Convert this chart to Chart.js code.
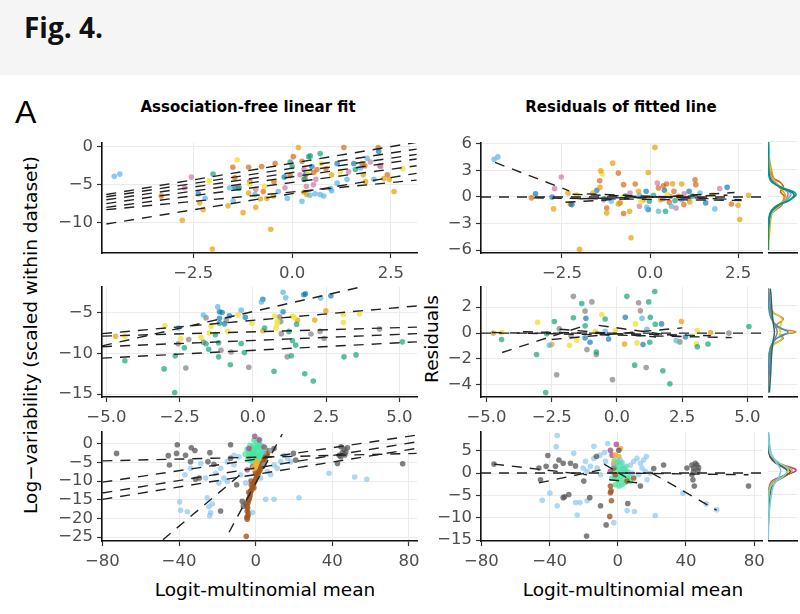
<!DOCTYPE html>
<html>
<head>
<meta charset="utf-8">
<script src="https://cdn.jsdelivr.net/npm/chart.js@4.4.1/dist/chart.umd.min.js"></script>
<style>
  body { margin: 0; width: 800px; height: 614px; position: relative; background: #fff; overflow: hidden; }
  .band { position: absolute; left: 0; top: 0; width: 800px; height: 75px; background: #f5f5f5; }
  .fig { position: absolute; left: 24px; top: 13px; font: 700 28px/28px "Open Sans", sans-serif; color: #111; }
  .lab { position: absolute; left: 15px; top: 96px; font: 32px/32px "Liberation Sans", sans-serif; color: #000; }
  .ttl { position: absolute; top: 100px; font: 700 15px/15px "DejaVu Sans", sans-serif; color: #000; transform: translateX(-50%); white-space: nowrap; }
  .axt { position: absolute; font: 18.5px/18.5px "DejaVu Sans", sans-serif; color: #000; white-space: nowrap; }
  .xt { top: 581px; transform: translateX(-50%); }
  .rot { transform: translate(-50%, -50%) rotate(-90deg); }
  .box { position: absolute; }
</style>
</head>
<body>
<div class="band"></div>
<div class="fig">Fig. 4.</div>
<div class="lab">A</div>
<div class="ttl" style="left:248px">Association-free linear fit</div>
<div class="ttl" style="left:621px">Residuals of fitted line</div>
<div class="axt rot" style="left:31px;top:335px">Log−variability (scaled within dataset)</div>
<div class="axt rot" style="left:432px;top:339px">Residuals</div>
<div class="axt xt" style="left:265px">Logit-multinomial mean</div>
<div class="axt xt" style="left:633px">Logit-multinomial mean</div>

<script>
// colours
const cOrange = 'rgba(230,159,0,0.7)';
const cSky = 'rgba(86,180,233,0.7)';
const cGreen = 'rgba(0,158,115,0.65)';
const cYellow = 'rgba(240,228,66,0.85)';
const cBlue = 'rgba(0,114,178,0.65)';
const cVerm = 'rgba(213,94,0,0.65)';
const cPink = 'rgba(204,121,167,0.7)';
const cGray = 'rgba(150,150,150,0.85)';
const cDark = 'rgba(85,85,85,0.75)';
const cLight = 'rgba(120,190,235,0.6)';
const cAqua = 'rgba(70,230,160,0.75)';
const cBrown = 'rgba(160,86,30,0.8)';
const cGold = 'rgba(240,176,48,0.85)';
const cMag = 'rgba(168,69,143,0.75)';

// ---- top row: association-free fit ----
const tlSky = [[-4.5,-3.9],[-4.36,-3.6],[-2.2,-6.8],[-1.58,-5.4],[-1.49,-7.2],[-0.94,-6.3],[-0.35,-5.9],[-0.12,-6.8],[0.25,-7.2],[0.71,-6.3],[0.58,-6.2],[0.97,-5.5],[1.14,-4.8],[1.39,-4.3],[1.73,-2.8],[1.9,-1.5],[2.07,-4.3],[0.45,-6.4],[0.8,-6.5],[1.0,-5.8]];
const tlOrange = [[-2.78,-9.7],[-2.34,-7.4],[-2.25,-8.3],[-2.02,-13.5],[-1.62,-7.8],[-1.24,-8.7],[-0.92,-8.0],[-0.64,-6.8],[-0.54,-10.9],[-0.47,-6.5],[0.37,-6.3],[1.0,-3.7],[1.86,-4.6],[2.32,-4.2],[2.46,-4.3],[2.58,-5.9],[1.8,-3.7],[0.16,-0.1],[-0.8,-6.9],[0.3,-6.0],[-1.1,-6.1]];
const tlYellow = [[-2.1,-4.5],[-1.39,-1.7],[-1.07,-4.9],[0.74,-2.2],[1.22,-3.3],[2.8,-2.9],[-0.7,-5.2],[0.4,-3.3]];
const tlGreen = [[-2.0,-3.6],[-0.05,-2.0],[0,-2.6],[0.42,-1.3],[0.46,-1.2],[0.71,-0.9],[-1.35,-5.5],[0.3,-4.3],[1.6,-3.0]];
const tlBlue = [[-2.37,-6.2],[0.5,-2.6],[1.14,-2.2],[1.56,-2.2],[2.19,-0.6],[-1.45,-5.4],[0.35,-3.6],[-0.2,-4.0]];
const tlVerm = [[-3.31,-6.5],[-1.5,-2.7],[-1.45,-4.1],[-1.1,-2.7],[-1.07,-4.6],[-0.77,-2.6],[-0.73,-5.9],[-0.43,-2.2],[-0.46,-4.6],[-0.05,-3.8],[0.03,-1.3],[0.33,-4.2],[0.63,-3.0],[0.86,-2.9],[1.31,-0.1],[1.77,-2.2],[2.41,-3.7],[2.18,-0.1],[1.84,-2.5],[0.25,-1.9],[0.55,-3.4]];
const tlPink = [[-2.55,-4.0],[-2.72,-5.4],[-1.34,-5.3],[-0.92,-5.6],[-0.18,-5.4],[0.2,-3.7],[0.36,-5.2],[0.54,-5.0],[1.43,-3.3],[1.98,-2.0],[2.24,-2.6],[2.22,-2.5],[0.3,-3.0],[0.6,-4.3]];
const tlFits = [[-4.7,-6.3,3.15,0.6],[-4.7,-6.6,3.15,-0.3],[-4.7,-7.0,3.15,-1.0],[-4.7,-7.5,3.15,-1.6],[-4.7,-8.0,3.15,-2.5],[-4.7,-8.3,3.15,-4.4],[-4.7,-10.2,3.15,-3.5]];

const trSky = [[-4.43,4.27],[-4.32,4.53],[-1.1,-0.49],[-0.09,-1.16],[0.24,-1.61],[0.61,-1.05],[1.42,0.45],[1.84,-1.35],[0.9,-0.3],[-0.3,0.2]];
const trOrange = [[-2.74,-1.35],[-2.33,0.45],[-2.0,-5.9],[-1.62,0.45],[-1.4,2.96],[-1.42,1.1],[-1.23,-1.8],[-1.06,3.82],[-0.58,-1.61],[-0.54,-4.6],[-0.33,0.64],[-0.05,2.77],[0.14,5.6],[0.64,1.5],[0.9,1.46],[1.13,-0.56],[2.5,-0.94],[2.55,-2.55],[2.8,0.19],[-0.9,-0.8],[0.3,-0.3]];
const trYellow = [[-2.08,0.26],[-1.36,2.6],[1.79,0.26],[-0.8,-0.1],[0.5,0.3],[-0.25,-0.5]];
const trGreen = [[-0.02,-0.49],[0.44,-1.61],[0.71,-0.41],[-1.3,-0.2],[0.1,0.2],[1.2,0.1]];
const trBlue = [[-3.25,0.37],[-2.78,0],[-2.22,-0.86],[-1.51,0.75],[-0.05,-1.42],[-0.11,0.64],[0.41,0.75],[1.11,0.64],[1.58,-0.67],[2.19,1.09],[-0.7,0.1]];
const trVerm = [[-3.37,-0.1],[-2.26,-0.8],[-1.43,1.84],[-1.23,-1.24],[-0.9,2.7],[-0.75,1.39],[-0.75,-1.87],[-0.85,-0.67],[-0.42,1.46],[0.24,1.01],[0.38,1.27],[0.47,1.46],[0.68,0.64],[0.81,0.07],[0.96,-0.86],[1.28,1.95],[1.3,1.39],[2.31,-0.79],[0.55,-0.6],[-0.2,-0.3]];
const trPink = [[-2.52,2.25],[-2.71,0.94],[-1.32,-0.3],[-0.57,0.45],[-0.3,-1.05],[0.21,1.57],[0.38,-0.19],[0.57,0.07],[0.74,-1.24],[0.97,0.37],[1.98,0.94],[1.1,-0.2]];
const trFits = [[-4.4,3.9,-2.3,0.7],[-3.3,-0.1,2.6,-0.4],[-2.4,-0.6,2.4,0.5],[-2.2,0.3,2.6,-0.3],[-2.0,-0.2,2.2,0.2],[-1.8,0.35,1.9,-0.2]];

// ---- middle row ----
const mlBlue = [[-1.14,-4.92],[-1.05,-5.0],[-1.14,-5.72],[-0.97,-6.4],[-0.8,-5.4],[-0.26,-5.6],[0.34,-3.4],[1.03,-4.92],[1.74,-2.84],[1.79,-2.72],[2.66,-2.96]];
const mlSky = [[-2.55,-6.92],[-1.69,-5.32],[-1.2,-4.32],[-0.4,-4.72],[0.29,-3.72],[1.03,-2.52],[1.12,-3.2],[2.31,-3.24]];
const mlGreen = [[-4.37,-10.92],[-3.03,-11.92],[-2.65,-10.32],[-2.67,-14.8],[-2.34,-9.32],[-1.6,-8.84],[-1.51,-9.52],[-1.14,-6.32],[-1.17,-8.72],[-1.17,-10.44],[-1.28,-7.72],[-0.77,-11.4],[-0.4,-8.8],[-0.29,-9.92],[0.4,-6.92],[0.72,-12.2],[1.49,-6.44],[1.23,-7.32],[1.35,-8.44],[1.46,-9.0],[1.31,-10.32],[1.77,-12.52],[2.06,-13.4],[3.11,-10.44],[3.52,-10.2],[5.1,-8.6]];
const mlYellow = [[-4.37,-7.92],[-3.0,-6.64],[-2.46,-8.24],[-1.77,-8.04],[-1.49,-7.52],[-1.43,-6.72],[-0.86,-7.32],[-0.51,-5.32],[-0.03,-6.32],[0.74,-5.44],[0.83,-6.12],[0.83,-6.44],[0.78,-6.92],[1.35,-5.44],[1.41,-5.6],[3.09,-5.24],[3.09,-6.24],[3.63,-5.2]];
const mlGray = [[-2.55,-8.84],[-2.19,-8.32],[-2.29,-11.8],[-1.69,-8.64],[-1.6,-5.64],[-1.09,-9.64],[-0.91,-5.92],[-0.74,-9.84],[-0.14,-11.72],[0.91,-5.52],[0.95,-6.12],[0.97,-7.6],[1.17,-10.44],[1.98,-7.64],[2.29,-7.32],[2.43,-8.2],[4.32,-7.04]];
const mlOrange = [[-4.69,-7.92],[0.34,-7.24],[1.52,-5.92],[2.49,-4.8],[2.11,-5.92]];
const mlFits = [[-5.15,-9.1,3.6,-1.95],[-5.15,-7.6,5.6,-4.2],[-5.15,-7.9,5.6,-6.8],[-5.15,-9.2,5.6,-7.6],[-5.15,-10.6,5.6,-8.6]];

const mrOrange = [[-4.74,0],[-2.5,-0.89],[0.29,-0.84],[2.47,0.89],[3.59,0.05]];
const mrYellow = [[-4.42,0.05],[-3.04,0.84],[-1.82,-0.94],[-1.54,-0.56],[-0.83,0.13],[-0.58,1.44],[-0.06,0.2],[0.71,0.71],[0.77,-0.76],[3.08,0.2],[3.05,-0.84]];
const mrGreen = [[-4.42,-0.5],[-3.08,-1.65],[-2.4,0.89],[-2.69,-0.05],[-2.73,-4.6],[-1.67,1.19],[-1.35,2.28],[-1.22,0.56],[-0.79,-1.47],[-0.45,1.09],[0.38,2.84],[0.68,-2.48],[1.22,2.41],[1.28,1.22],[1.26,-0.71],[1.45,3.22],[1.47,0.68],[1.76,-2.91],[2.03,-3.92],[3.08,-1.06],[3.49,-0.84],[5.06,0.51]];
const mrSky = [[-2.59,-0.94],[-0.45,0.13],[0.96,1.14],[1.15,0.3],[2.27,-0.58]];
const mrBlue = [[-1.19,1.14],[-1.22,-0.38],[-1.03,-0.71],[-0.32,-0.46],[0.32,1.22],[1.0,-0.89],[1.71,0.71],[2.63,-0.3]];
const mrGray = [[-2.31,-3.22],[-2.21,0.33],[-1.67,2.84],[-1.76,-0.2],[-0.96,2.41],[-1.22,1.7],[-1.15,-1.27],[-0.79,-1.65],[-0.17,-3.6],[0.83,2.35],[0.9,1.72],[1.12,-2.66],[2.41,-0.68],[4.29,0]];
const mrFits = [[-4.4,-1.5,-1.2,0.6],[-4.8,0.05,4.4,-0.35],[-2.5,-0.5,2.5,0.4],[-2.2,0.3,1.5,-0.3],[-0.7,0.6,2.5,-0.3],[-3.6,0.1,3.6,-0.2]];

// ---- bottom row ----
const blGray = [[-72.6,-2.6],[-45.6,-3.2],[-45,-5.7],[-41.3,-2.6],[-40.9,-0.3],[-36.6,-3.1],[-33.6,-1.1],[-34,-4.8],[-31.7,-1.8],[-31.4,-9.5],[-29.4,-9.2],[-24.9,-4.8],[-23.9,-2.4],[-21.8,-5.5],[-18.3,-18],[-13.1,-0.3],[-13.1,-3.9],[-9.9,-11],[-7,-15.4],[-6.4,-16.7],[9.6,-1.3],[19.7,-2.6],[20.9,-4.4],[42.7,-5.3],[44.4,-3.5],[46.2,-1.5],[47,-2.2],[45.3,-2.4],[47.9,-1.1],[43.6,-3.1],[76.7,-5.4],[44.5,-0.8],[46.5,-3.0]];
const blSky = [[-39.2,-17.8],[-39.7,-15.6],[-35.7,-18.2],[-36.9,-8.3],[-34,-6.6],[-28.7,-5.3],[-26.1,-9.2],[-25.3,-14.5],[-24.4,-16.9],[-24,-19.3],[-23.5,-18.4],[-22.6,-16.1],[-20.9,-7.9],[-19.2,-10.5],[-18.3,-6.6],[-16.6,-9.2],[-14.8,-10.1],[-14.8,-4.8],[-11.3,-5.7],[-7.8,-8.3],[-5.2,-10.5],[-1.7,-18.4],[-11.3,-3.1],[-8.7,-3.5],[4.4,-5.7],[6.1,-7.5],[5.2,-14.9],[9.6,-14.9],[9.6,-5.7],[11.3,-6.6],[13.1,-4.8],[14.8,-3.1],[16.6,-3.9],[18.3,-4.8],[22.6,-14.5],[38.3,-7.9],[51.7,-8.9],[58,-9.5],[7.8,-8.3],[2.6,-9.2],[4.4,-2.2],[7.8,-1.8]];
const blGreen = [[-2.6,-3.1],[-0.9,-1.8],[0.9,-0.9],[1.7,-2.2],[2.6,-3.1],[0,-3.9],[-1.7,-4.8],[0.9,-3.5],[3.5,-1.3],[-3.5,-2.2],[-0.9,-0.4],[1.7,0],[2.6,-1.5],[-2.0,-1.0],[0.2,-2.6],[4.2,-2.5],[-1.2,-3.0],[3.0,-0.5],
  [-4.5,-1.5],[-3.8,-3.5],[-3,-0.5],[-2.2,-2.6],[-1.5,-1.5],[-0.5,-2.8],[0.5,-1.2],[1.2,-3.2],[2.0,-0.3],[3.2,-2.8],[4.8,-1.0],[5.5,-2.0],[-4.0,-4.2],[-2.8,-4.5],[-0.3,-4.6],[1.0,-4.4],[2.2,-4.0],[3.8,-3.6],[-5.5,-2.8],[0.3,0.5],[-1.0,1.0],[1.5,1.2]];
const blMag = [[-0.5,2.0],[-1.7,-6.1],[-4.4,-7.0],[4.4,-0.9],[-3.5,-1.3],[2.0,1.0]];
const blGold = [[0,-5.7],[0.9,-6.6],[-0.9,-6.4],[1.7,-5.3],[0.5,-4.8],[-0.4,-7.3],[1.3,-7.6]];
const blBrown = [[6.1,-2.6],[5.2,-3.5],[4.4,-4.4],[3.5,-5.3],[2.6,-6.6],[1.7,-7.5],[0.9,-8.8],[0,-9.6],[-0.9,-10.5],[-1.7,-11.8],[-2.6,-12.7],[-3.0,-14],[-3.5,-14.9],[-4.0,-15.8],[-4.4,-16.7],[-4.4,-18],[-4.0,-19.3],[-4.4,-20.2],[-4.9,-24.8],[-0.9,-11.8],[-2.3,-11],[0,-7.9],[7,-1.8],
  [5.8,-3.0],[4.8,-3.9],[4.0,-5.0],[3.0,-6.0],[2.2,-7.1],[1.3,-8.2],[0.4,-9.1],[-0.4,-10.0],[-1.3,-11.2],[-2.0,-12.3],[-2.9,-13.4],[-3.3,-14.5],[-3.8,-15.3],[-4.2,-17.2],[-3.8,-18.6],[-4.6,-19.7],[-3.6,-13.0],[-2.4,-10.0],[-5.0,-16.0]];
const blFits = [[-13.9,-23.7,13.9,2.6],[-48.4,-25.7,-5,-7.0],[-80,-4.6,84,-2.6],[-80,-10.3,84,2.3],[-80,-13.2,84,0.5],[-80,-14.9,84,-1.25]];

const brGray = [[-72.6,2.0],[-46.2,1.1],[-45.3,-1.5],[-42,1.5],[-41,3.9],[-36.5,1.5],[-34.5,2.9],[-32,2.2],[-31.2,-5.3],[-32,-5.5],[-28.7,-4.8],[-27.7,2.2],[-24.8,1.6],[-19.9,-1.8],[-18.3,-14.1],[-16.4,-5.5],[-12.5,3.7],[-10.1,-7.3],[-6.8,-11.6],[0.6,5.1],[5.9,-6.8],[13.3,-2.9],[21.1,1.0],[26.9,1.8],[40.6,1.1],[43.5,1.8],[44.5,1.1],[46.4,1.8],[47.4,1.2],[44.5,0.4],[43.5,-0.4],[45.5,2.2],[47,0.5],[44.1,-1.5],[44.9,-2.9],[76.7,-2.9]];
const brSky = [[-44.3,-6.1],[-39.8,-4.5],[-36.1,5.9],[-35.5,-7.3],[-35.5,8.4],[-25.8,4.4],[-24.8,-6.6],[-23.8,-9.4],[-22.2,-6.6],[-20.3,1.1],[-18.9,2.6],[-18,0.4],[-16,1.5],[-14,6.0],[-14,3.3],[-18,-6.2],[-12.1,1.1],[-10.5,4.0],[-10.1,-0.4],[-7.8,4.6],[-7.2,2.6],[-5.9,6.6],[-2.3,-11.1],[5.5,-8.4],[9.8,-8.6],[9.4,2.6],[11.3,3.3],[13.3,2.2],[15.2,2.9],[16.8,3.7],[14.2,1.1],[16.2,0.4],[12.3,-0.4],[17.2,-1.5],[19.1,0],[22,-9.5],[38.2,-4.5],[51.9,-6.9],[58.1,-8.2],[-2.3,1.8],[1.6,2.9],[3.5,1.1],[7.4,1.8],[8.4,0]];
const brGreen = [[-2.3,1.1],[-0.4,2.2],[1.6,1.8],[3.5,-0.4],[5.5,-1.1],[0.6,-1.8],[-1.4,-2.6],[2.5,-2.6],[4.5,0.4],[7.4,-1.8],[-0.4,0.4],[1.6,-0.7],[2.8,1.0],[-1.8,-0.9],
  [-3.5,-1.2],[-2.8,0.2],[-1.0,1.4],[0.2,2.6],[1.0,0.8],[2.0,0.0],[3.0,-1.4],[4.2,-2.2],[5.0,1.5],[6.0,0.3],[-0.5,-1.0],[0.8,-2.9],[2.5,2.3],[-2.0,2.8],[3.8,0.9],[6.8,-0.8]];
const brMag = [[-0.8,6.4],[-4.3,5.1],[-3.3,4.0],[-4.3,0.4]];
const brGold = [[-1.4,4.0],[0.6,3.7],[-2.3,2.2],[1.6,5.5]];
const brBrown = [[-4.3,-2.9],[-3.9,-4.0],[-4.3,-4.4],[-3.7,-6.2],[-4.7,-9.7],[-2.3,1.1],[-1.4,-0.4],[5.5,-1.8],[9.4,-1.1]];
const brFits = [[-72.6,2.0,-18,-0.4],[-46.2,-2.2,-10.1,0.7],[20,0,58,-8.3],[0,0,76.7,-0.4],[-5,-1.5,12,-2.2],[-8,2,5,-1]];

// ---- residual densities (strip on the right) ----
const topLevels = [-6,-5,-4,-3,-2,-1.5,-1,-0.5,0,0.25,0.5,1,1.5,2,3,4,5,6];
const topDens = [
  ['#009E73', [0,0,0.01,0.02,0.06,0.15,0.35,0.75,0.98,1.0,0.9,0.45,0.15,0.05,0.02,0.01,0,0]],
  ['#0072B2', [0,0,0.01,0.03,0.08,0.18,0.4,0.75,0.93,0.92,0.8,0.42,0.18,0.07,0.02,0.01,0.01,0]],
  ['#56B4E9', [0,0,0.01,0.03,0.1,0.2,0.38,0.65,0.8,0.82,0.75,0.45,0.2,0.08,0.03,0.03,0.05,0.02]],
  ['#CC79A7', [0,0,0.01,0.03,0.1,0.22,0.42,0.62,0.7,0.72,0.68,0.45,0.25,0.12,0.05,0.02,0,0]],
  ['#F0E442', [0,0,0.02,0.04,0.12,0.25,0.45,0.65,0.74,0.74,0.7,0.5,0.28,0.12,0.06,0.02,0,0]],
  ['#E69F00', [0.02,0.03,0.06,0.08,0.14,0.25,0.4,0.55,0.62,0.6,0.55,0.4,0.3,0.2,0.12,0.06,0.04,0.02]],
  ['#D55E00', [0,0,0.01,0.02,0.1,0.3,0.5,0.55,0.58,0.5,0.45,0.55,0.45,0.2,0.06,0.02,0,0]]
];
const midLevels = [-4.6,-4,-3,-2,-1.5,-1,-0.5,-0.25,0,0.25,0.5,1,1.5,2,3,3.3];
const midDens = [
  ['#1F6F6A', [0.05,0.07,0.1,0.12,0.14,0.16,0.2,0.22,0.23,0.22,0.2,0.17,0.15,0.13,0.1,0.08]],
  ['#808080', [0,0.02,0.05,0.08,0.1,0.15,0.25,0.3,0.33,0.3,0.25,0.15,0.1,0.08,0.04,0.02]],
  ['#3A8FD8', [0,0,0.01,0.03,0.06,0.12,0.3,0.55,0.72,0.5,0.3,0.12,0.05,0.02,0,0]],
  ['#E0C830', [0,0,0,0.03,0.08,0.2,0.5,0.4,0.45,0.4,0.45,0.5,0.2,0.05,0,0]],
  ['#C8901A', [0,0,0,0.02,0.05,0.15,0.55,0.45,1.0,0.45,0.3,0.55,0.15,0.03,0,0]]
];
const botLevels = [-15,-12,-10,-8,-6,-4,-3,-2,-1,0,0.5,1,2,3,4,6,8,8.6];
const botDens = [
  ['#7EC4EE', [0.01,0.02,0.04,0.06,0.1,0.15,0.2,0.3,0.4,0.45,0.45,0.42,0.3,0.2,0.12,0.06,0.04,0.03]],
  ['#66E8B0', [0,0,0,0.01,0.02,0.06,0.12,0.3,0.55,0.7,0.72,0.65,0.4,0.2,0.08,0.03,0.01,0]],
  ['#555555', [0,0.01,0.02,0.03,0.05,0.1,0.15,0.3,0.55,0.7,0.65,0.55,0.3,0.12,0.05,0.02,0.01,0]],
  ['#8B4A1C', [0,0,0,0.01,0.03,0.08,0.15,0.3,0.6,0.8,0.75,0.55,0.25,0.1,0.04,0.01,0,0]],
  ['#E8A020', [0,0,0,0,0.01,0.03,0.08,0.2,0.55,0.85,0.85,0.7,0.3,0.12,0.05,0.02,0,0]],
  ['#B03A8A', [0,0,0,0,0.01,0.03,0.06,0.15,0.5,0.95,1.0,0.8,0.35,0.12,0.05,0.02,0,0]]
];

Chart.defaults.font.family = '"DejaVu Sans", sans-serif';

function fmt(v, dec) {
  return (v < 0 ? '\u2212' : '') + Math.abs(v).toFixed(dec);
}

function toXY(arr) {
  return arr.map(p => ({ x: p[0], y: p[1] }));
}

function makeBox(left, top, w, h) {
  const box = document.createElement('div');
  box.className = 'box';
  box.style.left = left + 'px';
  box.style.top = top + 'px';
  const cv = document.createElement('canvas');
  cv.width = w; cv.height = h;
  box.appendChild(cv);
  document.body.appendChild(box);
  return cv;
}

function axis(range, ticks, dec, dir, size) {
  return {
    type: 'linear', min: range[0], max: range[1],
    afterBuildTicks: s => { s.ticks = ticks.map(v => ({ value: v })); },
    afterFit: s => { if (dir === 'x') s.height = size; else s.width = size; },
    grid: { color: '#ebebeb', lineWidth: 1, drawTicks: true, tickLength: 5, tickColor: '#333', tickWidth: 1.2 },
    border: { display: true, color: '#111', width: 1.6 },
    ticks: { color: '#4d4d4d', font: { size: 16.5 }, padding: dir === 'x' ? 6 : 4, maxRotation: 0, autoSkip: false,
      callback: v => fmt(v, dec) }
  };
}

// scatter panel: area = chart area in page pixels
function panel(area, xr, yr, xt, yt, dec, pts, fits) {
  const YW = 70, XH = 45, PT = 12, PR = 24;
  const cv = makeBox(area.l - YW, area.t - PT, YW + area.r - area.l + PR, PT + area.b - area.t + XH);
  const datasets = [];
  fits.forEach(f => datasets.push({
    data: [{ x: f[0], y: f[1] }, { x: f[2], y: f[3] }], showLine: true,
    borderColor: '#222', borderWidth: 1.4, borderDash: [10, 8], pointRadius: 0, order: 0
  }));
  pts.forEach(p => datasets.push({
    data: toXY(p[1]), backgroundColor: p[0], pointRadius: 2.8, borderWidth: 0, order: 1
  }));
  new Chart(cv, {
    type: 'scatter',
    data: { datasets },
    options: {
      responsive: false, animation: false,
      plugins: { legend: { display: false }, tooltip: { enabled: false } },
      layout: { padding: { top: PT, right: PR, left: 0, bottom: 0 } },
      scales: { x: axis(xr, xt, dec, 'x', XH), y: axis(yr, yt, 0, 'y', YW) }
    }
  });
}

// density strip beside a residual panel
function strip(area, yr, yt, levels, curves) {
  const PT = 12, PB = 6, PR = 4;
  const cv = makeBox(area.l, area.t - PT, area.r - area.l + PR, PT + area.b - area.t + PB);
  const datasets = curves.map(c => ({
    data: levels.map((y, i) => ({ x: c[1][i], y })), showLine: true,
    borderColor: c[0], borderWidth: 1.5, pointRadius: 0, tension: 0.4
  }));
  new Chart(cv, {
    type: 'scatter',
    data: { datasets },
    options: {
      responsive: false, animation: false,
      plugins: { legend: { display: false }, tooltip: { enabled: false } },
      layout: { padding: { top: PT, right: PR, left: 0, bottom: 0 } },
      scales: {
        x: { type: 'linear', min: 0, max: 1.04, afterFit: s => { s.height = PB; },
          ticks: { display: false }, grid: { display: false },
          border: { display: true, color: '#111', width: 1.6 } },
        y: { type: 'linear', min: yr[0], max: yr[1], afterFit: s => { s.width = 0; },
          afterBuildTicks: s => { s.ticks = yt.map(v => ({ value: v })); },
          ticks: { display: false }, grid: { color: '#ebebeb', drawTicks: false },
          border: { display: false } }
      }
    }
  });
}

// top row
panel({ l: 102, t: 141, r: 417, b: 253 }, [-4.81, 3.16], [-14.03, 0.52], [-2.5, 0, 2.5], [-10, -5, 0], 1,
  [[cSky, tlSky], [cOrange, tlOrange], [cYellow, tlYellow], [cGreen, tlGreen], [cBlue, tlBlue], [cVerm, tlVerm], [cPink, tlPink]],
  tlFits);
panel({ l: 481, t: 141, r: 762, b: 253 }, [-4.8, 3.18], [-6.33, 6.11], [-2.5, 0, 2.5], [-6, -3, 0, 3, 6], 1,
  [[cSky, trSky], [cOrange, trOrange], [cYellow, trYellow], [cGreen, trGreen], [cBlue, trBlue], [cVerm, trVerm], [cPink, trPink]],
  trFits.concat([[-4.8, 0, 3.18, 0]]));
strip({ l: 768, t: 141, r: 797, b: 253 }, [-6.33, 6.11], [-6, -3, 0, 3, 6], topLevels, topDens);

// middle row
panel({ l: 102, t: 285, r: 417, b: 397 }, [-5.15, 5.6], [-15.36, -1.87], [-5, -2.5, 0, 2.5, 5], [-15, -10, -5], 1,
  [[cSky, mlSky], [cBlue, mlBlue], [cGreen, mlGreen], [cYellow, mlYellow], [cGray, mlGray], [cOrange, mlOrange]],
  mlFits);
panel({ l: 481, t: 285, r: 762, b: 397 }, [-5.21, 5.56], [-4.94, 3.57], [-5, -2.5, 0, 2.5, 5], [-4, -2, 0, 2], 1,
  [[cSky, mrSky], [cBlue, mrBlue], [cGreen, mrGreen], [cYellow, mrYellow], [cGray, mrGray], [cOrange, mrOrange]],
  mrFits.concat([[-5.21, 0, 5.56, 0]]));
strip({ l: 768, t: 285, r: 797, b: 397 }, [-4.94, 3.57], [-4, -2, 0, 2], midLevels, midDens);

// bottom row
panel({ l: 102, t: 430, r: 417, b: 541 }, [-80.2, 84.2], [-26.05, 3.16], [-80, -40, 0, 40, 80], [-25, -20, -15, -10, -5, 0], 0,
  [[cDark, blGray], [cLight, blSky], [cBrown, blBrown], [cGold, blGold], [cMag, blMag], [cAqua, blGreen]],
  blFits);
panel({ l: 481, t: 430, r: 762, b: 541 }, [-80.2, 84.6], [-15.2, 9.2], [-80, -40, 0, 40, 80], [-15, -10, -5, 0, 5], 0,
  [[cDark, brGray], [cLight, brSky], [cBrown, brBrown], [cGold, brGold], [cMag, brMag], [cAqua, brGreen]],
  brFits.concat([[-80.2, 0, 84.6, 0]]));
strip({ l: 768, t: 430, r: 797, b: 541 }, [-15.2, 9.2], [-15, -10, -5, 0, 5], botLevels, botDens);
</script>
</body>
</html>
